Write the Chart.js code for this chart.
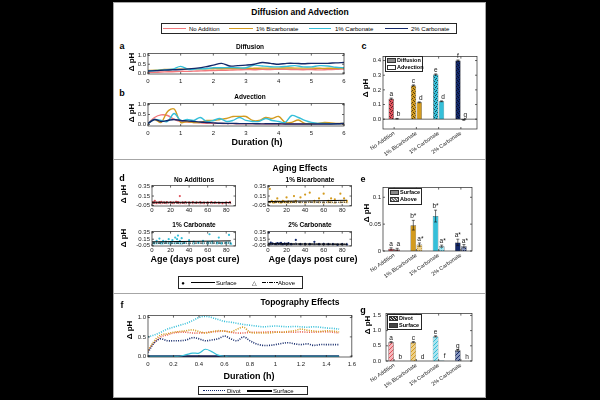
<!DOCTYPE html>
<html><head><meta charset="utf-8">
<script src="https://cdn.jsdelivr.net/npm/chart.js@4.4.1/dist/chart.umd.min.js"></script>
<style>
html,body{margin:0;padding:0;background:#000;}
body{width:600px;height:400px;position:relative;overflow:hidden;font-family:"Liberation Sans",Arial,sans-serif;color:#000}
.sec{position:absolute;background:#fff;border:1px solid #a6a6a6;box-sizing:border-box}
.t{position:absolute;white-space:nowrap;line-height:1}
canvas{position:absolute}
.box{position:absolute;border:0.8px solid #262626;background:#fff;box-sizing:border-box}
.ln{position:absolute;height:0}
.sw{position:absolute;box-sizing:border-box;border:0.6px solid #333}
</style></head><body>
<div class="sec" style="left:113px;top:2px;width:373px;height:158px"></div>
<div class="sec" style="left:113px;top:159px;width:373px;height:135px"></div>
<div class="sec" style="left:113px;top:293px;width:373px;height:105px"></div>
<script>
// ---------------- DATA ----------------
const groups = ['No Addition', '1% Bicarbonate', '1% Carbonate', '2% Carbonate'];
const seriesNames = ['No Addition', '1% Bicarbonate', '1% Carbonate', '2% Carbonate'];

// Panel a: Diffusion (time in h)
const tDiff = [0,0.25,0.5,0.75,1,1.25,1.5,1.75,2,2.25,2.5,2.75,3,3.25,3.5,3.75,4,4.25,4.5,4.75,5,5.25,5.5,5.75,6];
const diffNo = [0.05,0.05,0.07,0.08,0.1,0.1,0.12,0.13,0.15,0.16,0.17,0.18,0.2,0.19,0.21,0.2,0.22,0.21,0.2,0.19,0.2,0.18,0.2,0.21,0.23];
const diffBi = [0.15,0.17,0.2,0.21,0.22,0.22,0.24,0.24,0.25,0.25,0.26,0.26,0.27,0.27,0.28,0.28,0.28,0.29,0.28,0.28,0.28,0.27,0.27,0.27,0.27];
const diffC1 = [0.12,0.15,0.18,0.22,0.38,0.2,0.24,0.25,0.3,0.3,0.32,0.3,0.3,0.45,0.4,0.36,0.35,0.38,0.42,0.35,0.35,0.42,0.4,0.33,0.3];
const diffC2 = [0.12,0.14,0.17,0.19,0.2,0.24,0.28,0.35,0.45,0.55,0.4,0.42,0.45,0.5,0.6,0.55,0.5,0.55,0.55,0.53,0.55,0.55,0.55,0.58,0.6];

// Panel b: Advection
const tAdv = [0,0.2,0.4,0.6,0.8,1,1.2,1.4,1.6,1.8,2,2.2,2.4,2.6,2.8,3,3.2,3.4,3.6,3.8,4,4.2,4.4,4.6,4.8,5,5.2,5.4,5.6,5.8,6];
const advNo = [0.05,0.35,0.48,0.45,0.25,0.15,0.12,0.1,0.08,0.06,0.05,0.05,0.04,0.04,0.03,0.03,0.03,0.03,0.02,0.02,0.02,0.02,0.02,0.02,0.02,0.02,0.02,0.02,0.02,0.02,0.03];
const advBi = [0.05,0.25,0.1,0.65,0.78,0.1,0.15,0.1,0.1,0.2,0.2,0.25,0.3,0.4,0.4,0.4,0.2,0.2,0.35,0.3,0.4,0.1,0.1,0.22,0.05,0.05,0.05,0.1,0.08,0.05,0.05];
const advC1 = [0.05,0.25,0.2,0.15,0.55,0.2,0.25,0.2,0.35,0.15,0.2,0.3,0.15,0.2,0.35,0.2,0.15,0.15,0.3,0.2,0.15,0.1,0.45,0.35,0.2,0.1,0.05,0.05,0.03,0.03,0.05];
const advC2 = [0.05,0.25,0.15,0.2,0.25,0.2,0.18,0.15,0.12,0.1,0.08,0.06,0.05,0.05,0.04,0.04,0.04,0.03,0.03,0.03,0.03,0.02,0.02,0.02,0.02,0.02,0.02,0.02,0.02,0.03,0.05];

// Panel c: mean delta pH
const cDiff = [0.14, 0.23, 0.305, 0.40];
const cDiffErr = [0.004, 0.004, 0.004, 0.004];
const cDiffLet = ['a', 'c', 'e', 'f'];
const cAdv = [0.003, 0.115, 0.122, -0.005];
const cAdvErr = [0.002, 0.003, 0.003, 0.003];
const cAdvLet = ['b', 'd', 'd', 'g'];

// Panel d: aging scatter (x = days post cure, y = delta pH)
const dNoX  = [1,3,5,8,10,13,16,20,23,26,28,30,33,36,40,44,48,52,56,60,64,68,72,76,80,84];
const dNoY  = [0.02,0.05,0.01,0.02,0.03,0.01,0.02,0.02,0.01,0.03,0.02,0.15,0.01,0.02,0.01,0.02,0.01,0.02,0.01,0.01,0.02,0.01,0.01,0.0,0.01,0.02];
const dNoAY = [0.0,0.01,0.0,0.01,0.0,0.01,0.0,0.01,0.0,0.02,0.01,0.0,0.01,0.0,0.01,0.0,0.01,0.0,0.0,0.01,0.0,0.01,0.0,0.0,0.01,0.0];
const dBiX  = [2,4,6,8,10,12,14,16,18,20,22,25,28,30,35,40,45,50,55,60,65,68,72,78,82,85];
const dBiY  = [0.3,0.05,0.02,0.04,0.1,0.03,0.02,0.05,0.03,0.12,0.04,0.03,0.15,0.05,0.12,0.18,0.22,0.05,0.1,0.2,0.05,0.1,0.08,0.2,0.1,0.05];
const dBiAY = [0.02,0.03,0.01,0.02,0.03,0.02,0.01,0.03,0.02,0.02,0.01,0.02,0.03,0.02,0.02,0.01,0.03,0.02,0.02,0.01,0.02,0.02,0.01,0.02,0.03,0.02];
const dC1X  = [2,5,8,10,12,15,18,20,22,25,27,28,30,32,35,40,45,50,55,60,62,65,70,72,75,80,83,85];
const dC1Y  = [0.05,0.1,0.17,0.05,0.1,0.08,0.15,0.06,0.12,0.2,0.15,0.26,0.1,0.18,0.05,0.12,0.08,0.05,0.1,0.06,0.3,0.08,0.05,0.2,0.03,0.05,0.28,0.02];
const dC1AY = [0.02,0.03,0.04,0.02,0.03,0.05,0.03,0.02,0.04,0.03,0.05,0.04,0.03,0.02,0.04,0.03,0.02,0.04,0.03,0.02,0.05,0.03,0.02,0.04,0.02,0.03,0.05,0.01];
const dC2X  = [1,3,5,8,10,12,14,16,18,20,22,25,30,35,40,45,50,55,60,65,70,75,80,85];
const dC2Y  = [0.35,0.05,0.02,0.01,0.03,0.02,0.04,0.0,0.02,0.01,0.03,0.0,0.13,0.0,0.01,0.0,0.07,0.0,0.01,0.0,0.0,-0.02,0.0,-0.01];
const dC2AY = [0.01,0.0,0.01,0.0,0.0,0.01,0.0,0.0,0.01,0.0,0.0,0.0,0.01,0.0,0.0,0.0,0.0,0.0,0.0,0.0,0.0,-0.01,0.0,0.0];
const fitX = [0, 85];
const fitNoS = [0.02, 0.015], fitNoA = [0.005, 0.005];
const fitBiS = [0.035, 0.06], fitBiA = [0.02, 0.02];
const fitC1S = [0.07, 0.1],  fitC1A = [0.03, 0.035];
const fitC2S = [0.01, 0.0],  fitC2A = [0.003, 0.0];

// Panel e
const eSurf = [0.004, 0.048, 0.065, 0.016];
const eSurfErr = [0.002, 0.009, 0.011, 0.006];
const eSurfLet = ['a', 'b*', 'b*', 'a*'];
const eAbove = [0.003, 0.012, 0.009, 0.009];
const eAboveErr = [0.002, 0.003, 0.002, 0.003];
const eAboveLet = ['a', 'a*', 'a*', 'a*'];

// Panel f: topography (time in h)
const tTopo = [0,0.05,0.1,0.15,0.2,0.25,0.3,0.35,0.4,0.45,0.5,0.55,0.6,0.65,0.7,0.75,0.8,0.85,0.9,0.95,1,1.05,1.1,1.15,1.2,1.25,1.3,1.35,1.4,1.45,1.5];
const divC1 = [0.5,0.55,0.62,0.7,0.75,0.8,0.85,0.92,1.0,1.03,1.0,0.95,0.9,0.88,0.85,0.82,0.8,0.78,0.76,0.77,0.78,0.77,0.76,0.77,0.76,0.75,0.76,0.75,0.73,0.72,0.7];
const divBi = [0.15,0.4,0.55,0.58,0.62,0.64,0.66,0.68,0.64,0.6,0.63,0.66,0.65,0.63,0.7,0.75,0.62,0.6,0.6,0.6,0.62,0.62,0.64,0.66,0.7,0.67,0.65,0.64,0.66,0.65,0.63];
const divNo = [0.15,0.35,0.5,0.55,0.6,0.62,0.62,0.6,0.6,0.61,0.63,0.64,0.65,0.62,0.6,0.6,0.62,0.62,0.62,0.63,0.63,0.62,0.62,0.62,0.63,0.62,0.62,0.63,0.63,0.62,0.6];
const divC2 = [0.1,0.35,0.45,0.4,0.4,0.4,0.42,0.48,0.45,0.4,0.42,0.45,0.52,0.45,0.4,0.5,0.4,0.32,0.28,0.28,0.3,0.33,0.35,0.32,0.3,0.32,0.28,0.3,0.3,0.3,0.3];
const surfC1 = [0,0,0,0,0,0,0.04,0.08,0.08,0.18,0.12,0.03,0,0,0,0,0,0,0,0,0,0,0,0,0,0,0,0,0,0,0];
const surfNo = [0,0,0,0,0,0,0,0,0,0,0,0,0,0,0,0,0,0,0,0,0,0,0,0,0,0,0,0,0,0,0];
const surfBi = [0,0,0,0,0,0,0,0,0,0,0,0,0,0,0,0,0,0,0,0,0,0,0,0,0,0,0,0,0,0,0];
const surfC2 = [0,0,0,0,0,0,0,0,0,0,0,0,0,0,0,0,0,0,0,0,0,0,0,0,0,0,0,0,0,0,0];

// Panel g
const gDivot = [0.62, 0.62, 0.81, 0.35];
const gDivotErr = [0.02, 0.02, 0.02, 0.03];
const gDivotLet = ['a', 'c', 'e', 'g'];
const gSurf = [0.0, 0.0, 0.02, 0.0];
const gSurfErr = [0, 0, 0, 0];
const gSurfLet = ['b', 'd', 'f', 'h'];

// Tick values / labels
const ticksTime6 = [0,1,2,3,4,5,6];
const ticksUnit = [0, 0.5, 1.0];
const ticksC = [0, 0.1, 0.2, 0.3, 0.4];
const ticksAgeX = [0, 20, 40, 60, 80];
const ticksAgeY = [-0.05, 0.15, 0.35];
const labAgeY = ['-0.05', '0.15', '0.35'];
const ticksE = [0, 0.05, 0.1];
const labE = ['0', '0.05', '0.1'];
const ticksTopo = [0,0.2,0.4,0.6,0.8,1.0,1.2,1.4,1.6];
const labTopo = ['0','0.2','0.4','0.6','0.8','1','1.2','1.4','1.6'];
const ticksG = [0, 0.5, 1.0, 1.5];

// ---------------- STYLE ----------------
const COL = ['#F2787C', '#D39B1F', '#35BFD9', '#13286A'];
const COLBAR = ['#E0525C', '#D39B1F', '#35BFD9', '#13286A'];
const LIGHT = ['#F6B8BC', '#EDD08A', '#A8E4EF', '#8896BC'];
const FONT = '"Liberation Sans", Arial, sans-serif';
Chart.defaults.font.family = FONT;
Chart.defaults.color = '#1a1a1a';
Chart.defaults.animation = false;
Chart.defaults.plugins.legend.display = false;
Chart.defaults.plugins.tooltip.enabled = false;

function pattern(base, dot, kind) {
  const c = document.createElement('canvas'); c.width = 4; c.height = 4;
  const x = c.getContext('2d');
  x.fillStyle = base; x.fillRect(0, 0, 4, 4);
  x.fillStyle = dot;
  if (kind === 'speck') { x.fillRect(0, 0, 1, 1); x.fillRect(2, 1, 1, 1); x.fillRect(1, 3, 1, 1); x.fillRect(3, 2, 1, 1); }
  else if (kind === 'check') { x.fillRect(0, 0, 1, 1); x.fillRect(2, 2, 1, 1); x.fillRect(2, 0, 1, 1); }
  else { x.fillRect(0, 3, 1, 1); x.fillRect(1, 2, 1, 1); x.fillRect(2, 1, 1, 1); x.fillRect(3, 0, 1, 1); }
  return c.getContext('2d').createPattern(c, 'repeat');
}

const frame = {
  id: 'frame',
  afterDatasetsDraw(chart, args, o) {
    const { left, top, right, bottom } = chart.chartArea; const ctx = chart.ctx;
    const L = left + (o.dl || 0), R = right + (o.dr || 0);
    const xs = chart.scales.x, ys = chart.scales.y;
    ctx.save(); ctx.strokeStyle = '#262626'; ctx.lineWidth = 0.7;
    ctx.strokeRect(L, top, R - L, bottom - top);
    const tl = 2; ctx.beginPath();
    xs.ticks.forEach((t, i) => { const p = xs.getPixelForTick(i); ctx.moveTo(p, bottom); ctx.lineTo(p, bottom - tl); ctx.moveTo(p, top); ctx.lineTo(p, top + tl); });
    ys.ticks.forEach((t, i) => { const p = ys.getPixelForTick(i); ctx.moveTo(L, p); ctx.lineTo(L + tl, p); ctx.moveTo(R, p); ctx.lineTo(R - tl, p); });
    ctx.stroke();
    if (o.base) { const p = ys.getPixelForValue(0); ctx.beginPath(); ctx.moveTo(L, p); ctx.lineTo(R, p); ctx.stroke(); }
    ctx.restore();
  }
};
const ann = {
  id: 'ann',
  afterDatasetsDraw(chart) {
    const ctx = chart.ctx, ys = chart.scales.y;
    chart.data.datasets.forEach((ds, di) => {
      if (!ds.err && !ds.letters) return;
      const meta = chart.getDatasetMeta(di);
      meta.data.forEach((bar, i) => {
        const v = ds.data[i], e = ds.err ? ds.err[i] : 0, x = bar.x;
        ctx.save(); ctx.strokeStyle = '#111'; ctx.lineWidth = 0.6;
        if (e) {
          const y1 = ys.getPixelForValue(v + e), y0 = ys.getPixelForValue(v - e);
          ctx.beginPath(); ctx.moveTo(x, y0); ctx.lineTo(x, y1);
          ctx.moveTo(x - 1.5, y1); ctx.lineTo(x + 1.5, y1); ctx.moveTo(x - 1.5, y0); ctx.lineTo(x + 1.5, y0); ctx.stroke();
        }
        if (ds.letters) {
          const yt = ys.getPixelForValue(Math.max(v + e, 0));
          ctx.fillStyle = '#111'; ctx.font = '6.5px ' + FONT; ctx.textAlign = 'center'; ctx.textBaseline = 'bottom';
          ctx.fillText(ds.letters[i], x + (ds.lx || 0), yt - 0.5);
        }
        ctx.restore();
      });
    });
  }
};
Chart.register(frame, ann);

function makeChart(plot, pad, config) {
  const cv = document.createElement('canvas');
  const L = plot.l - pad.l, T = plot.t - pad.t, W = plot.w + pad.l + pad.r, H = plot.h + pad.t + pad.b;
  cv.width = W; cv.height = H;
  Object.assign(cv.style, { left: L + 'px', top: T + 'px', width: W + 'px', height: H + 'px' });
  document.body.appendChild(cv);
  const o = config.options;
  o.responsive = false; o.animation = false;
  o.layout = { padding: { top: pad.t, right: pad.r, left: 0, bottom: 0 } };
  o.scales.x.afterFit = s => { s.height = pad.b; };
  o.scales.y.afterFit = s => { s.width = pad.l; };
  return new Chart(cv, config);
}
function fixed(arr, labels) {
  return {
    afterBuildTicks: s => { s.ticks = arr.map(v => ({ value: v })); },
    ticks: { font: { size: 6 }, padding: 2, autoSkip: false, maxRotation: 0, callback: (v, i) => labels ? labels[i] : v }
  };
}
function linAxis(min, max, arr, labels, extra) {
  const f = fixed(arr, labels);
  return Object.assign({ type: 'linear', min, max, grid: { display: false, drawTicks: false }, border: { display: false },
    afterBuildTicks: f.afterBuildTicks, ticks: Object.assign(f.ticks, extra || {}) });
}
const pts = (xs, ys) => xs.map((x, i) => ({ x, y: ys[i] }));
const lineDS = (xs, ys, color, w, dash) => ({ type: 'line', data: pts(xs, ys), borderColor: color, borderWidth: w, pointRadius: 0, tension: 0.35, fill: false, borderDash: dash || [] , showLine: true});

// ---------- Panel a ----------
makeChart({ l: 148, t: 51, w: 196, h: 23 }, { l: 16, t: 3, r: 6, b: 12 }, {
  type: 'line',
  data: { datasets: [
    lineDS(tDiff, diffC2, COL[3], 1.4), lineDS(tDiff, diffC1, COL[2], 1.4),
    lineDS(tDiff, diffBi, COL[1], 1.4), lineDS(tDiff, diffNo, COL[0], 1.4)] },
  options: { scales: {
    x: linAxis(0, 6, ticksTime6, null, { padding: 4 }),
    y: linAxis(-0.05, 1.1, ticksUnit, ['0.0', '0.5', '1.0']) } }
});
// ---------- Panel b ----------
makeChart({ l: 148, t: 101, w: 196, h: 25 }, { l: 16, t: 3, r: 6, b: 12 }, {
  type: 'line',
  data: { datasets: [
    lineDS(tAdv, advC2, COL[3], 1.4), lineDS(tAdv, advC1, COL[2], 1.4),
    lineDS(tAdv, advBi, COL[1], 1.4), lineDS(tAdv, advNo, COL[0], 1.4)] },
  options: { scales: {
    x: linAxis(0, 6, ticksTime6, null, { padding: 4 }),
    y: linAxis(-0.08, 1.05, ticksUnit, ['0.0', '0.5', '1.0']) } }
});

// ---------- bar helper ----------
function barAxisX() {
  return { type: 'category', grid: { display: false, drawTicks: false }, border: { display: false },
    ticks: { font: { size: 5.5 }, padding: 1, autoSkip: false, minRotation: 35, maxRotation: 35 } };
}
// ---------- Panel c ----------
makeChart({ l: 383, t: 55, w: 89, h: 74 }, { l: 24, t: 4, r: 10, b: 40 }, {
  type: 'bar',
  data: { labels: groups, datasets: [
    { data: cDiff, err: cDiffErr, letters: cDiffLet, backgroundColor: COLBAR.map(c => pattern(c, 'rgba(0,0,0,0.6)', 'speck')), borderColor: '#222', borderWidth: 0.5 },
    { data: cAdv, err: cAdvErr, letters: cAdvLet, lx: 1.5, backgroundColor: COLBAR.map((c, i) => i === 0 ? '#ffffff' : c), borderColor: '#222', borderWidth: 0.5 }] },
  options: {
    datasets: { bar: { categoryPercentage: 0.52, barPercentage: 0.92 } },
    plugins: { frame: { dr: 5, base: true } },
    scales: { x: barAxisX(), y: linAxis(-0.067, 0.427, ticksC, ['0.0', '0.1', '0.2', '0.3', '0.4']) } }
});
// ---------- Panel e ----------
makeChart({ l: 383, t: 186, w: 89, h: 65 }, { l: 24, t: 4, r: 6, b: 40 }, {
  type: 'bar',
  data: { labels: groups, datasets: [
    { data: eSurf, err: eSurfErr, letters: eSurfLet, backgroundColor: COLBAR, borderColor: '#222', borderWidth: 0.5 },
    { data: eAbove, err: eAboveErr, letters: eAboveLet, lx: 1, backgroundColor: COLBAR.map((c, i) => pattern(LIGHT[i], c, 'check')), borderColor: '#222', borderWidth: 0.5 }] },
  options: {
    datasets: { bar: { categoryPercentage: 0.55, barPercentage: 0.92 } },
    scales: { x: barAxisX(), y: linAxis(0, 0.118, ticksE, labE) } }
});
// ---------- Panel g ----------
makeChart({ l: 383, t: 312, w: 89, h: 49 }, { l: 24, t: 4, r: 6, b: 36 }, {
  type: 'bar',
  data: { labels: groups, datasets: [
    { data: gDivot, err: gDivotErr, letters: gDivotLet, backgroundColor: COLBAR.map((c, i) => pattern(LIGHT[i], c, 'hatch')), borderColor: '#222', borderWidth: 0.5 },
    { data: gSurf, err: gSurfErr, letters: gSurfLet, lx: 3, backgroundColor: COLBAR, borderColor: '#222', borderWidth: 0.5 }] },
  options: {
    datasets: { bar: { categoryPercentage: 0.55, barPercentage: 0.92 } },
    plugins: { frame: { dl: 3 } },
    scales: { x: barAxisX(), y: linAxis(0, 1.56, ticksG, ['0.0', '0.5', '1.0', '1.5']) } }
});

// ---------- Panel d ----------
function agePanel(plot, X, Y, AY, fS, fA, color, ymin, ymax) {
  makeChart(plot, { l: 18, t: 3, r: 4, b: 9 }, {
    type: 'scatter',
    data: { datasets: [
      { type: 'line', data: pts(fitX, fS), borderColor: '#000', borderWidth: 1, pointRadius: 0, showLine: true },
      { type: 'line', data: pts(fitX, fA), borderColor: '#000', borderWidth: 0.8, borderDash: [3, 1, 1, 1], pointRadius: 0, showLine: true },
      { data: pts(X, Y), pointStyle: 'circle', pointRadius: 1.1, backgroundColor: color, borderColor: color, borderWidth: 0 },
      { data: pts(X, AY), pointStyle: 'triangle', pointRadius: 1.3, backgroundColor: 'rgba(0,0,0,0)', borderColor: color, borderWidth: 0.5 }] },
    options: { scales: {
      x: linAxis(0, 90, ticksAgeX, null, { padding: 1 }),
      y: linAxis(ymin, ymax, ticksAgeY, labAgeY) } }
  });
}
agePanel({ l: 152, t: 183, w: 84, h: 23 }, dNoX, dNoY, dNoAY, fitNoS, fitNoA, COLBAR[0], -0.06, 0.37);
agePanel({ l: 268, t: 183, w: 84, h: 23 }, dBiX, dBiY, dBiAY, fitBiS, fitBiA, COLBAR[1], -0.06, 0.37);
agePanel({ l: 152, t: 229, w: 84, h: 17 }, dC1X, dC1Y, dC1AY, fitC1S, fitC1A, COLBAR[2], -0.055, 0.38);
agePanel({ l: 268, t: 229, w: 84, h: 17 }, dC2X, dC2Y, dC2AY, fitC2S, fitC2A, COLBAR[3], -0.055, 0.38);

// ---------- Panel f ----------
makeChart({ l: 148, t: 313, w: 204, h: 44 }, { l: 16, t: 3, r: 8, b: 12 }, {
  type: 'line',
  data: { datasets: [
    lineDS(tTopo, surfC1, COL[2], 1.2), lineDS(tTopo, surfC2, COL[3], 2.2),
    lineDS(tTopo, surfBi, COL[1], 1.2), lineDS(tTopo, surfNo, COL[0], 1.2),
    lineDS(tTopo, divC2, COL[3], 1.6, [1, 1.3]), lineDS(tTopo, divC1, COL[2], 1.6, [1, 1.3]),
    lineDS(tTopo, divBi, COL[1], 1.6, [1, 1.3]), lineDS(tTopo, divNo, '#E8604F', 1.6, [1, 1.3])] },
  options: { scales: {
    x: linAxis(0, 1.6, ticksTopo, labTopo, { padding: 4 }),
    y: linAxis(-0.02, 1.05, ticksUnit, ['0.0', '0.5', '1.0']) } }
});

// ---------------- TEXT / LEGENDS ----------------
function T(x, y, s, size, bold, align, rot) {
  const d = document.createElement('div'); d.className = 't'; d.textContent = s;
  d.style.left = x + 'px'; d.style.top = y + 'px'; d.style.fontSize = size + 'px';
  if (bold) d.style.fontWeight = 'bold';
  const tx = align === 'left' ? '0' : '-50%';
  d.style.transform = 'translate(' + tx + ',-50%)' + (rot ? ' rotate(' + rot + 'deg)' : '');
  document.body.appendChild(d); return d;
}
function box(l, t, w, h) { const d = document.createElement('div'); d.className = 'box'; Object.assign(d.style, { left: l + 'px', top: t + 'px', width: w + 'px', height: h + 'px' }); document.body.appendChild(d); }
function line(x1, x2, y, color, w, style) { const d = document.createElement('div'); d.className = 'ln'; Object.assign(d.style, { left: x1 + 'px', top: (y - w / 2) + 'px', width: (x2 - x1) + 'px', borderTop: w + 'px ' + (style || 'solid') + ' ' + color }); document.body.appendChild(d); }
function dashdot(x1, x2, y) { const d = document.createElement('div'); Object.assign(d.style, { position: 'absolute', left: x1 + 'px', top: (y - 0.5) + 'px', width: (x2 - x1) + 'px', height: '1px', background: 'repeating-linear-gradient(90deg,#000 0 4px,transparent 4px 5px,#000 5px 6px,transparent 6px 7px)' }); document.body.appendChild(d); }
function sw(l, t, w, h, bg) { const d = document.createElement('div'); d.className = 'sw'; Object.assign(d.style, { left: l + 'px', top: t + 'px', width: w + 'px', height: h + 'px', background: bg }); document.body.appendChild(d); }

// section 1
T(300, 12, 'Diffusion and Advection', 8.5, true);
box(161, 23, 296, 11);
line(163, 186, 28.5, COL[0], 1.5); T(189, 28.5, seriesNames[0], 6, false, 'left');
line(229, 253, 28.5, COL[1], 1.5); T(256, 28.5, seriesNames[1], 6, false, 'left');
line(309, 331, 28.5, COL[2], 1.5); T(335, 28.5, seriesNames[2], 6, false, 'left');
line(385, 408, 28.5, COL[3], 1.5); T(411, 28.5, seriesNames[3], 6, false, 'left');
T(122, 46, 'a', 9, true); T(122, 93, 'b', 9, true); T(364, 46, 'c', 9, true);
T(250, 47, 'Diffusion', 6.5, true); T(250, 97, 'Advection', 6.5, true);
T(132, 62, 'Δ pH', 8, true, null, -90); T(132, 113, 'Δ pH', 8, true, null, -90);
T(366, 88, 'Δ pH', 8, true, null, -90);
T(257, 142, 'Duration (h)', 9, true);
box(385, 56, 38, 16);
sw(387, 58, 9, 5, 'radial-gradient(#111 35%, transparent 40%) 0 0/2px 2px, #8a8a8a');
T(397, 60.5, 'Diffusion', 5.5, true, 'left');
sw(387, 65, 9, 5, '#fff');
T(397, 67.5, 'Advection', 5.5, true, 'left');

// section 2
T(300, 168, 'Aging Effects', 8.5, true);
T(122, 178, 'd', 9, true); T(363, 179, 'e', 9, true);
T(194, 180, 'No Additions', 6.5, true); T(310, 180, '1% Bicarbonate', 6.5, true);
T(194, 225, '1% Carbonate', 6.5, true); T(310, 225, '2% Carbonate', 6.5, true);
T(124, 194, 'Δ pH', 8, true, null, -90); T(124, 238, 'Δ pH', 8, true, null, -90);
T(195, 259, 'Age (days post cure)', 9, true); T(313, 259, 'Age (days post cure)', 9, true);
box(178, 276, 125, 13);
T(183, 282.5, '●', 6); line(191, 215, 282.5, '#000', 1); T(216, 282.5, 'Surface', 6, false, 'left');
T(254, 282.5, '△', 6); dashdot(262, 278, 282.5); T(278, 282.5, 'Above', 6, false, 'left');
T(367, 213, 'Δ pH', 8, true, null, -90);
box(388, 188, 34, 17);
sw(390, 190, 9, 5, '#8a8a8a'); T(400, 192.5, 'Surface', 5.5, true, 'left');
sw(390, 197, 9, 5, 'repeating-linear-gradient(45deg,#777 0 1px,#eee 1px 2px)'); T(400, 199.5, 'Above', 5.5, true, 'left');

// section 3
T(300, 302, 'Topography Effects', 8.5, true);
T(122, 305, 'f', 9, true); T(363, 310, 'g', 9, true);
T(130, 330, 'Δ pH', 8, true, null, -90);
T(249, 376, 'Duration (h)', 9, true);
box(198, 386, 110, 9);
line(203, 225, 390.5, '#13286A', 1.5, 'dotted'); T(227, 390.5, 'Divot', 6, false, 'left');
line(247, 272, 390.5, '#000', 2); T(273, 390.5, 'Surface', 6, false, 'left');
T(368, 325, 'Δ pH', 8, true, null, -90);
box(387, 314, 35, 16);
sw(389, 316, 9, 5, 'repeating-linear-gradient(45deg,#333 0 1px,#ddd 1px 2px)'); T(399, 318.5, 'Divot', 5.5, true, 'left');
sw(389, 323, 9, 5, '#444'); T(399, 325.5, 'Surface', 5.5, true, 'left');
</script>
</body></html>
